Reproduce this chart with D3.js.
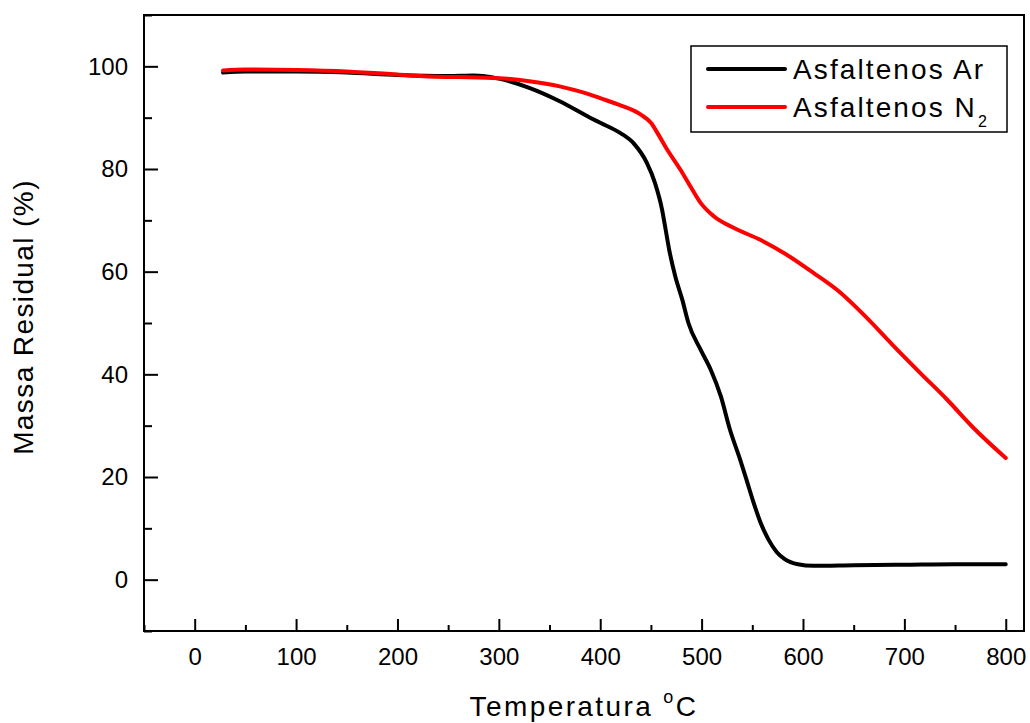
<!DOCTYPE html>
<html>
<head>
<meta charset="utf-8">
<script src="https://cdn.jsdelivr.net/npm/d3@7"></script>
<style>
  html, body { margin: 0; padding: 0; background: #fff; }
  svg { display: block; font-family: Arial, "Liberation Sans", sans-serif; }
</style>
</head>
<body>
<svg id="chart" width="1030" height="723"></svg>
<script>
// ---- data ----
const tempAr = [28, 50, 100, 150, 200, 250, 275, 300, 330, 360, 390, 400, 420, 433, 446, 454, 461, 464, 468, 474, 481, 487, 499, 509, 519, 528, 538, 545, 550, 558, 566, 574, 582, 595, 610, 650, 700, 750, 800];
const massAr = [98.8, 99.0, 99.0, 98.8, 98.3, 98.1, 98.2, 97.6, 95.8, 93.2, 90.0, 89.0, 87.0, 85.0, 81.2, 77.3, 72.1, 68.8, 64.3, 59.1, 54.5, 50.0, 44.8, 40.9, 35.7, 29.2, 23.4, 19.0, 15.8, 11.2, 7.8, 5.4, 4.0, 3.0, 2.7, 2.8, 2.9, 3.0, 3.0];

const tempN2 = [28, 50, 100, 150, 200, 230, 260, 300, 330, 360, 390, 400, 420, 440, 450, 458, 466, 479, 489, 499, 512, 532, 558, 584, 610, 637, 663, 689, 716, 742, 768, 800];
const massN2 = [99.2, 99.4, 99.3, 99.0, 98.4, 98.0, 97.9, 97.7, 97.1, 96.1, 94.5, 93.8, 92.4, 90.6, 89.0, 86.5, 83.8, 79.9, 76.6, 73.4, 70.8, 68.5, 66.2, 63.3, 59.8, 55.9, 51.0, 45.6, 40.2, 35.1, 29.6, 23.7];

const xTicks = [0, 100, 200, 300, 400, 500, 600, 700, 800];
const xMinorTicks = [-50, 50, 150, 250, 350, 450, 550, 650, 750];
const yTicks = [0, 20, 40, 60, 80, 100];
const yMinorTicks = [-10, 10, 30, 50, 70, 90, 110];
const seriesNames = ["Asfaltenos Ar", "Asfaltenos N"];
const seriesColors = ["#000000", "#ff0000"];

// ---- layout ----
const svg = d3.select("#chart");
const L = 144, R = 1024, T = 15, B = 631;
const x = d3.scaleLinear().domain([-50, 818]).range([L, R]);
const y = d3.scaleLinear().domain([-10, 110]).range([B, T]);

// axes (ticks inside)
const xAxis = d3.axisBottom(x).tickValues(xTicks).tickSize(-12).tickPadding(26).tickFormat(d3.format("d"));
const xAxisMinor = d3.axisBottom(x).tickValues(xMinorTicks).tickSize(-6).tickFormat("");
const yAxis = d3.axisLeft(y).tickValues(yTicks).tickSize(-14).tickPadding(16).tickFormat(d3.format("d"));
const yAxisMinor = d3.axisLeft(y).tickValues(yMinorTicks).tickSize(-8).tickFormat("");

function styleAxis(g) {
  g.select(".domain").remove();
  g.selectAll(".tick line").attr("stroke", "#000").attr("stroke-width", 2);
  g.selectAll(".tick text").attr("fill", "#000").attr("font-size", 24);
}

svg.append("g").attr("transform", `translate(0,${B})`).call(xAxisMinor).call(styleAxis);
svg.append("g").attr("transform", `translate(0,${B})`).call(xAxis).call(styleAxis)
  .selectAll(".tick text").attr("dy", "0.71em").attr("y", 17);
svg.append("g").attr("transform", `translate(${L},0)`).call(yAxisMinor).call(styleAxis);
svg.append("g").attr("transform", `translate(${L},0)`).call(yAxis).call(styleAxis);

// frame
svg.append("rect").attr("x", L).attr("y", T).attr("width", R - L).attr("height", B - T)
  .attr("fill", "none").attr("stroke", "#000").attr("stroke-width", 2);

// lines
const line = d3.line().x(d => x(d[0])).y(d => y(d[1])).curve(d3.curveMonotoneX);
const ar = tempAr.map((t, i) => [t, massAr[i]]);
const n2 = tempN2.map((t, i) => [t, massN2[i]]);
svg.append("path").datum(ar).attr("d", line).attr("fill", "none")
  .attr("stroke", seriesColors[0]).attr("stroke-width", 4).attr("stroke-linejoin", "round").attr("stroke-linecap", "round");
svg.append("path").datum(n2).attr("d", line).attr("fill", "none")
  .attr("stroke", seriesColors[1]).attr("stroke-width", 4).attr("stroke-linejoin", "round").attr("stroke-linecap", "round");

// legend
const lg = svg.append("g");
lg.append("rect").attr("x", 691).attr("y", 46).attr("width", 316).attr("height", 86)
  .attr("fill", "#fff").attr("stroke", "#000").attr("stroke-width", 1.5);
[69, 107].forEach((ly, i) => {
  lg.append("line").attr("x1", 708).attr("x2", 785).attr("y1", ly).attr("y2", ly)
    .attr("stroke", seriesColors[i]).attr("stroke-width", 4).attr("stroke-linecap", "round");
});
lg.append("text").attr("x", 793).attr("y", 79).attr("font-size", 28).attr("letter-spacing", 2.1)
  .text(seriesNames[0]);
const t2 = lg.append("text").attr("x", 793).attr("y", 117).attr("font-size", 28).attr("letter-spacing", 2.1);
t2.append("tspan").text(seriesNames[1]);
t2.append("tspan").attr("font-size", 16).attr("dy", 10).attr("dx", 1).text("2");

// axis titles
const xt = svg.append("text").attr("x", (L + R) / 2).attr("y", 716).attr("text-anchor", "middle")
  .attr("font-size", 28).attr("letter-spacing", 2.4);
xt.append("tspan").text("Temperatura ");
xt.append("tspan").attr("font-size", 18).attr("dy", -13).text("o");
xt.append("tspan").attr("dy", 13).text("C");

svg.append("text").attr("transform", `translate(33,${(T + B) / 2 - 6}) rotate(-90)`)
  .attr("text-anchor", "middle").attr("font-size", 28).attr("letter-spacing", 1.4)
  .text("Massa Residual (%)");
</script>
</body>
</html>
